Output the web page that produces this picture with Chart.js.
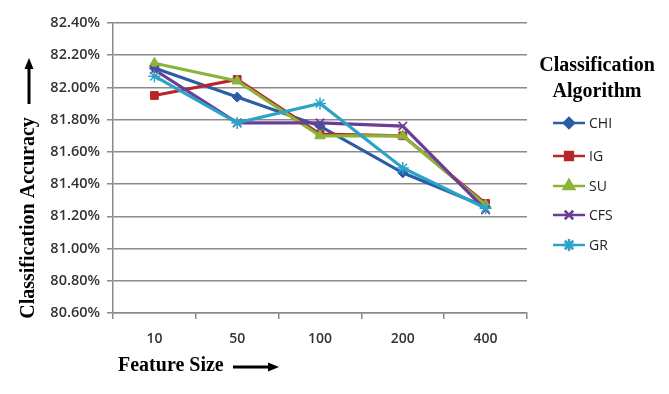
<!DOCTYPE html>
<html>
<head>
<meta charset="utf-8">
<script src="https://cdn.jsdelivr.net/npm/chart.js@4"></script>
<style>
  body { margin: 0; background: #fff; }
  canvas { display: block; }
</style>
</head>
<body>
<canvas id="chart" width="669" height="394"></canvas>
<script>
'use strict'

// feature sizes along x
const categories = ['10', '50', '100', '200', '400']

// classification accuracy (%) per selection algorithm
const chi = [82.12, 81.94, 81.76, 81.47, 81.26]
const ig  = [81.95, 82.05, 81.71, 81.70, 81.28]
const su  = [82.15, 82.04, 81.70, 81.70, 81.27]
const cfs = [82.11, 81.78, 81.78, 81.76, 81.24]
const gr  = [82.07, 81.78, 81.90, 81.50, 81.25]

const seriesNames = ['CHI', 'IG', 'SU', 'CFS', 'GR']
const seriesData = [chi, ig, su, cfs, gr]
const seriesColors = ['#2B5CA6', '#B8252A', '#8AB43A', '#6A3D98', '#2AA3C6']
const seriesMarkers = ['rectRot', 'rect', 'triangle', 'crossRot', 'star']
const markerSizes = [5, 5.5, 6, 6, 6]

const serif = '"Liberation Serif", "Times New Roman", serif'
const sans = '"Open Sans", "Liberation Sans", sans-serif'

const datasets = seriesNames.map((name, i) => ({
    label: name,
    data: seriesData[i],
    borderColor: seriesColors[i],
    backgroundColor: seriesColors[i],
    borderWidth: 3.2,
    pointStyle: seriesMarkers[i],
    pointRadius: markerSizes[i],
    pointBorderWidth: (seriesMarkers[i] === 'crossRot' || seriesMarkers[i] === 'star') ? 1.5 : 1,
    pointBackgroundColor: seriesColors[i],
    pointBorderColor: seriesColors[i],
    tension: 0,
    order: 5 - i
}))

function arrow(ctx, x1, y1, x2, y2){
    const ang = Math.atan2(y2 - y1, x2 - x1)
    const head = 11
    ctx.save()
    ctx.strokeStyle = '#000'
    ctx.fillStyle = '#000'
    ctx.lineWidth = 3
    ctx.beginPath()
    ctx.moveTo(x1, y1)
    ctx.lineTo(x2 - Math.cos(ang) * head * 0.8, y2 - Math.sin(ang) * head * 0.8)
    ctx.stroke()
    ctx.beginPath()
    ctx.moveTo(x2, y2)
    ctx.lineTo(x2 - Math.cos(ang) * head - Math.sin(ang) * 4.5, y2 - Math.sin(ang) * head + Math.cos(ang) * 4.5)
    ctx.lineTo(x2 - Math.cos(ang) * head + Math.sin(ang) * 4.5, y2 - Math.sin(ang) * head - Math.cos(ang) * 4.5)
    ctx.closePath()
    ctx.fill()
    ctx.restore()
}

// axis titles with arrows + legend on the right
const decorations = {
    id: 'decorations',
    afterDraw(chart){
        const ctx = chart.ctx
        ctx.save()
        ctx.fillStyle = '#000'
        ctx.font = 'bold 20px ' + serif
        ctx.textBaseline = 'middle'

        // y title
        ctx.save()
        ctx.translate(29, 218)
        ctx.rotate(-Math.PI / 2)
        ctx.textAlign = 'center'
        ctx.fillText('Classification Accuracy', 0, 0)
        ctx.restore()
        arrow(ctx, 29, 104, 29, 58)

        // x title
        ctx.textAlign = 'left'
        ctx.fillText('Feature Size', 118, 366)
        arrow(ctx, 233, 367, 279, 367)

        // legend title
        ctx.textAlign = 'center'
        ctx.fillText('Classification', 597, 66)
        ctx.fillText('Algorithm', 597, 92)

        // legend entries
        const rowY = [123, 156, 186, 215, 245]
        chart.data.datasets.forEach((ds, i) => {
            const y = rowY[i]
            ctx.strokeStyle = ds.borderColor
            ctx.lineWidth = 2.5
            ctx.beginPath()
            ctx.moveTo(553, y)
            ctx.lineTo(585, y)
            ctx.stroke()
            ctx.fillStyle = ds.borderColor
            ctx.strokeStyle = ds.borderColor
            Chart.helpers.drawPoint(ctx, {
                pointStyle: ds.pointStyle,
                radius: ds.pointRadius,
                borderWidth: ds.pointBorderWidth,
                rotation: 0
            }, 569, y)
            ctx.fillStyle = '#222'
            ctx.font = '14px ' + sans
            ctx.textAlign = 'left'
            ctx.fillText(ds.label, 589, y + 1)
        })
        ctx.restore()
    }
}

new Chart(document.getElementById('chart'), {
    type: 'line',
    data: { labels: categories, datasets: datasets },
    plugins: [decorations],
    options: {
        responsive: false,
        animation: false,
        events: [],
        layout: { padding: { left: 0, right: 142, top: 23, bottom: 0 } },
        plugins: {
            legend: { display: false },
            tooltip: { enabled: false }
        },
        scales: {
            x: {
                offset: true,
                grid: {
                    offset: true,
                    drawOnChartArea: false,
                    drawTicks: true,
                    tickLength: 6,
                    color: '#8a8a8a',
                    lineWidth: 1.5
                },
                border: { color: '#8a8a8a', width: 1.5 },
                ticks: {
                    color: '#333',
                    font: { family: sans, size: 14, weight: '600' },
                    padding: 12
                },
                afterFit(scale){ scale.height = 81 }
            },
            y: {
                min: 80.6,
                max: 82.4,
                grid: {
                    color: '#8a8a8a',
                    lineWidth: 1.5,
                    tickLength: 6
                },
                border: { color: '#8a8a8a', width: 1.5 },
                ticks: {
                    stepSize: 0.2,
                    color: '#333',
                    font: { family: sans, size: 14.5, weight: '600' },
                    padding: 7,
                    callback: v => v.toFixed(2) + '%'
                },
                afterFit(scale){ scale.width = 113 }
            }
        }
    }
})
</script>
</body>
</html>
